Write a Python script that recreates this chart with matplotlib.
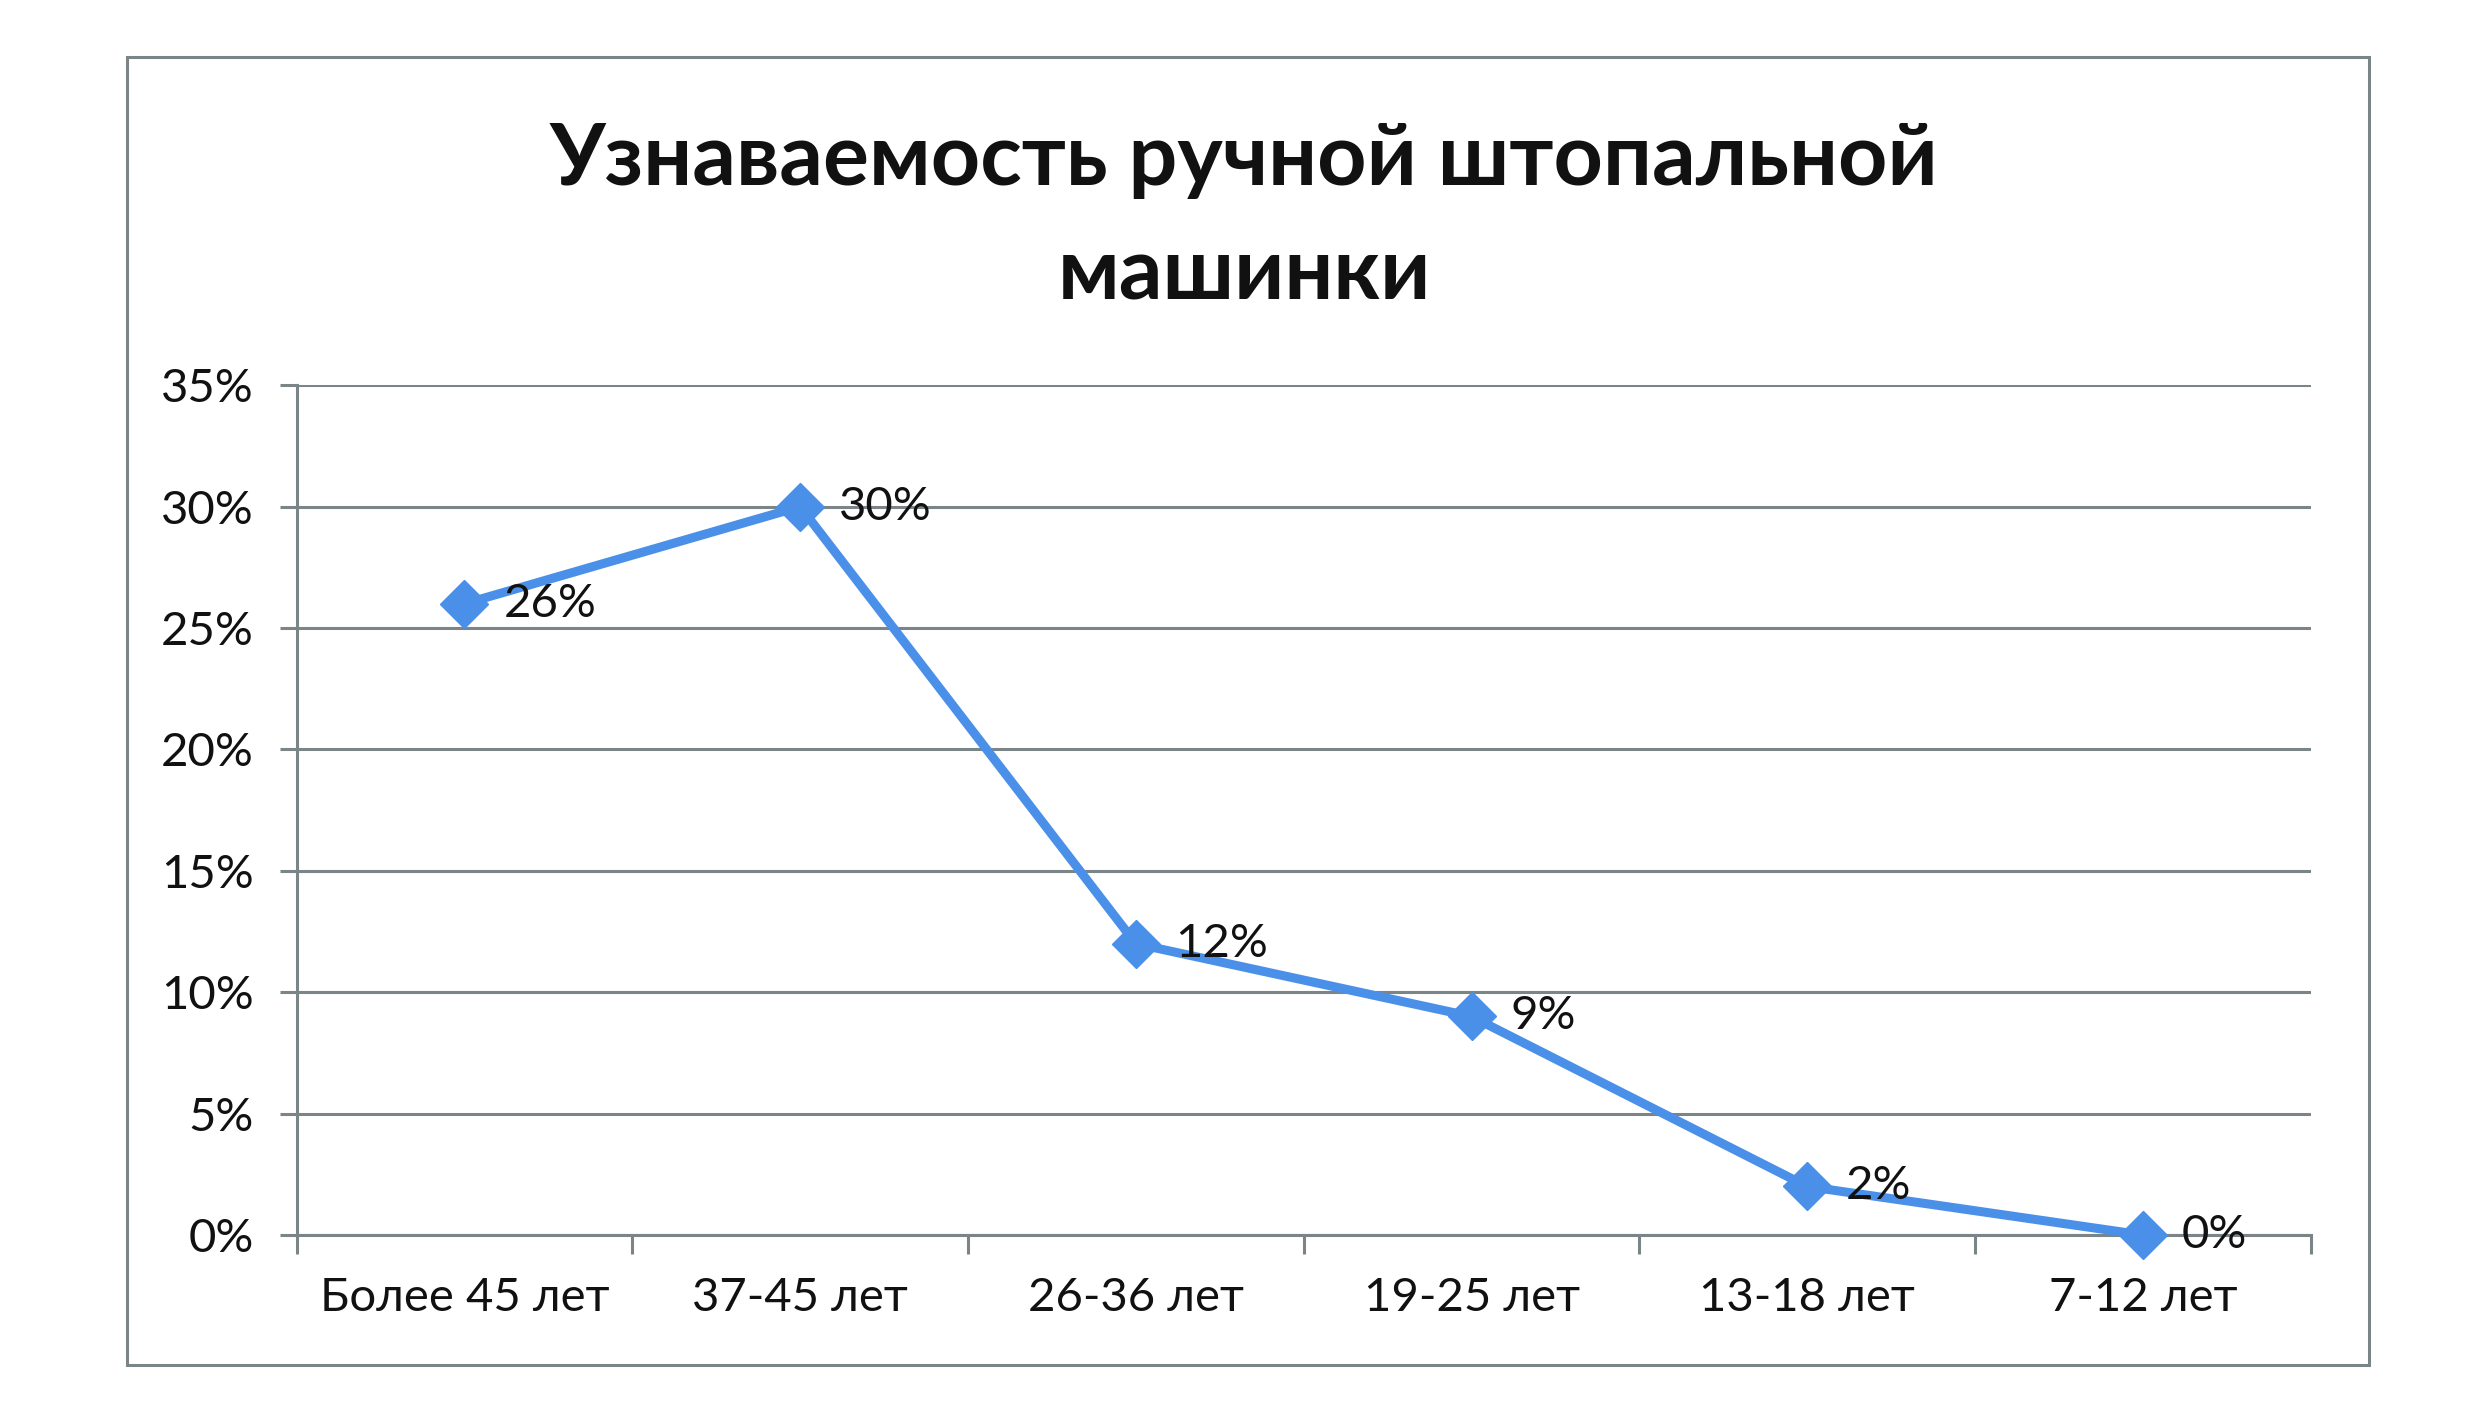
import numpy as np
import matplotlib
matplotlib.use("Agg")
import matplotlib.pyplot as plt
from matplotlib.ticker import FuncFormatter, FixedLocator

plt.rcParams['font.family'] = ['Lato', 'DejaVu Sans']

categories = ['Более 45 лет', '37-45 лет', '26-36 лет', '19-25 лет', '13-18 лет', '7-12 лет']
values = [0.26, 0.30, 0.12, 0.09, 0.02, 0.0]
labels = ['26%', '30%', '12%', '9%', '2%', '0%']
title = 'Узнаваемость ручной штопальной\nмашинки'

grid_col = '#7b8587'
line_col = '#4a90e8'

fig = plt.figure(figsize=(24.74, 14.22), dpi=100)

# outer chart frame
frame = plt.Rectangle((0.0513, 0.0401), 0.9064, 0.9198, transform=fig.transFigure,
                      fill=False, edgecolor=grid_col, linewidth=2.2)
fig.patches.append(frame)

ax = fig.add_axes([0.1199, 0.1315, 0.8141, 0.5976])
x = np.arange(len(categories))
ax.plot(x, values, color=line_col, linewidth=6.5, marker='D', markersize=24,
        zorder=3, clip_on=False)
for xi, v, lab in zip(x, values, labels):
    ax.annotate(lab, (xi, v), xytext=(28, 0), textcoords='offset points',
                ha='left', va='center', fontsize=34, color='#111111', zorder=4)

ax.set_xlim(-0.5, len(categories) - 0.5)
ax.set_ylim(0, 0.35)
ax.set_yticks(np.arange(0, 0.351, 0.05))
ax.yaxis.set_major_formatter(FuncFormatter(lambda v, p: f'{round(v * 100)}%'))
ax.grid(axis='y', color=grid_col, linewidth=2.2, zorder=1)
ax.set_axisbelow(True)

ax.set_xticks(x)
ax.set_xticklabels(categories)
ax.xaxis.set_minor_locator(FixedLocator(np.arange(-0.5, len(categories), 1.0)))
ax.tick_params(axis='x', which='major', length=0, pad=30, labelsize=34, labelcolor='#111111')
ax.tick_params(axis='x', which='minor', length=14, width=2.2, color=grid_col, direction='out')
ax.tick_params(axis='y', length=12, width=2.2, color=grid_col, labelsize=34,
               labelcolor='#111111', pad=19)

for s in ['top', 'right']:
    ax.spines[s].set_visible(False)
for s in ['left', 'bottom']:
    ax.spines[s].set_color(grid_col)
    ax.spines[s].set_linewidth(2.2)

fig.text(0.503, 0.847, title, ha='center', va='center', fontsize=62,
         fontweight='bold', linespacing=1.55, color='#111111')

fig.savefig('out.png', dpi=100)
